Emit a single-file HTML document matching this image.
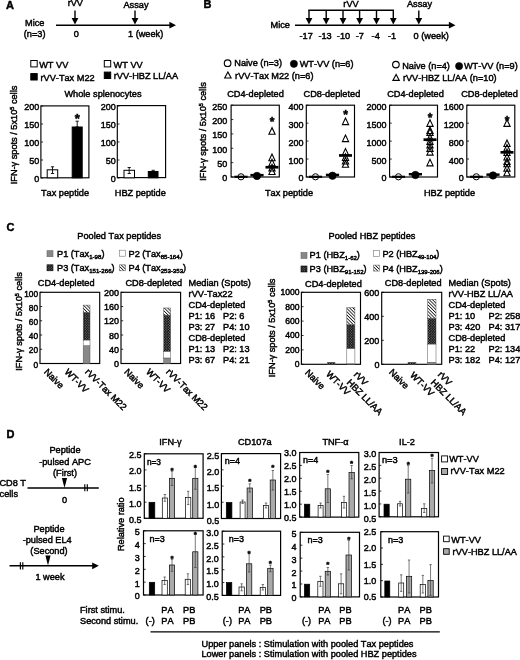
<!DOCTYPE html>
<html><head><meta charset="utf-8"><title>Figure</title>
<style>
html,body{margin:0;padding:0;background:#fff;}
svg{display:block}
svg{font-family:"Liberation Sans",sans-serif;font-size:9.2px;font-kerning:none;}
svg text{fill:#000;stroke:#000;stroke-width:0.45px;}
</style></head><body>
<svg width="520" height="660" viewBox="0 0 520 660">
<rect width="520" height="660" fill="#fff"/>
<text x="6" y="8.6" font-size="11" font-weight="bold">A</text>
<text x="75.3" y="6.4" text-anchor="middle">rVV</text>
<text x="136" y="8" text-anchor="middle">Assay</text>
<line x1="75" y1="10.5" x2="75" y2="18.9" stroke="#000" stroke-width="1.4"/>
<polygon points="71.6,17.9 78.4,17.9 75,24.5" fill="#000"/>
<line x1="135" y1="10.5" x2="135" y2="18.9" stroke="#000" stroke-width="1.4"/>
<polygon points="131.6,17.9 138.4,17.9 135,24.5" fill="#000"/>
<line x1="56" y1="25.2" x2="170.4" y2="25.2" stroke="#000" stroke-width="1.4"/>
<polygon points="169.4,21.8 169.4,28.599999999999998 176,25.2" fill="#000"/>
<text x="25" y="26">Mice</text>
<text x="23.8" y="37.3">(n=3)</text>
<text x="76.3" y="37.2" text-anchor="middle">0</text>
<text x="128" y="37.2">1 (week)</text>
<rect x="30.80" y="60.50" width="6.40" height="6.40" fill="#fff" stroke="#000" stroke-width="1"/>
<text x="39.2" y="68.1">WT VV</text>
<rect x="30.80" y="73.60" width="6.40" height="6.40" fill="#000" stroke="#000" stroke-width="1"/>
<text x="40.5" y="81">rVV-Tax M22</text>
<rect x="104.30" y="60.50" width="6.40" height="6.40" fill="#fff" stroke="#000" stroke-width="1"/>
<text x="113.6" y="68.3">WT VV</text>
<rect x="104.30" y="72.10" width="6.40" height="6.40" fill="#000" stroke="#000" stroke-width="1"/>
<text x="113.8" y="79.2">rVV-HBZ LL/AA</text>
<text x="103" y="97" text-anchor="middle">Whole splenocytes</text>
<text transform="translate(17.2,135) rotate(-90)" text-anchor="middle">IFN-γ spots / 5x10<tspan font-size="5.5" dy="-3">5</tspan><tspan dy="3"> cells</tspan></text>
<rect x="40.90" y="105.90" width="48.00" height="71.90" fill="none" stroke="#000" stroke-width="1.15"/>
<line x1="40.9" y1="178.0" x2="43.1" y2="178.0" stroke="#000" stroke-width="0.8"/>
<text x="39.3" y="181.55" text-anchor="end" font-size="9.0">0</text>
<line x1="40.9" y1="160.0" x2="43.1" y2="160.0" stroke="#000" stroke-width="0.8"/>
<text x="39.3" y="163.55" text-anchor="end" font-size="9.0">50</text>
<line x1="40.9" y1="142.0" x2="43.1" y2="142.0" stroke="#000" stroke-width="0.8"/>
<text x="39.3" y="145.55" text-anchor="end" font-size="9.0">100</text>
<line x1="40.9" y1="124.0" x2="43.1" y2="124.0" stroke="#000" stroke-width="0.8"/>
<text x="39.3" y="127.55" text-anchor="end" font-size="9.0">150</text>
<line x1="40.9" y1="106.0" x2="43.1" y2="106.0" stroke="#000" stroke-width="0.8"/>
<text x="39.3" y="109.55" text-anchor="end" font-size="9.0">200</text>
<rect x="47.20" y="169.80" width="10.50" height="8.00" fill="#fff" stroke="#000" stroke-width="1"/>
<path d="M52.5 166.8V173.5M50.9 166.8H54.1M50.9 173.5H54.1" stroke="#000" stroke-width="0.9" fill="none"/>
<rect x="72.20" y="127.00" width="10.00" height="50.80" fill="#000" stroke="#000" stroke-width="1"/>
<path d="M77.2 121.2V127M75.60000000000001 121.2H78.8M75.60000000000001 127H78.8" stroke="#000" stroke-width="0.9" fill="none"/>
<text x="77.3" y="122.53" text-anchor="middle" font-size="13" font-weight="bold">*</text>
<text x="65" y="196" text-anchor="middle">Tax peptide</text>
<rect x="117.30" y="105.60" width="48.30" height="72.00" fill="none" stroke="#000" stroke-width="1.15"/>
<line x1="117.3" y1="178.0" x2="119.5" y2="178.0" stroke="#000" stroke-width="0.8"/>
<text x="115.7" y="181.55" text-anchor="end" font-size="9.0">0</text>
<line x1="117.3" y1="160.0" x2="119.5" y2="160.0" stroke="#000" stroke-width="0.8"/>
<text x="115.7" y="163.55" text-anchor="end" font-size="9.0">50</text>
<line x1="117.3" y1="142.0" x2="119.5" y2="142.0" stroke="#000" stroke-width="0.8"/>
<text x="115.7" y="145.55" text-anchor="end" font-size="9.0">100</text>
<line x1="117.3" y1="124.0" x2="119.5" y2="124.0" stroke="#000" stroke-width="0.8"/>
<text x="115.7" y="127.55" text-anchor="end" font-size="9.0">150</text>
<line x1="117.3" y1="106.0" x2="119.5" y2="106.0" stroke="#000" stroke-width="0.8"/>
<text x="115.7" y="109.55" text-anchor="end" font-size="9.0">200</text>
<rect x="124.00" y="170.30" width="10.50" height="7.50" fill="#fff" stroke="#000" stroke-width="1"/>
<path d="M129.2 167.5V173.5M127.6 167.5H130.79999999999998M127.6 173.5H130.79999999999998" stroke="#000" stroke-width="0.9" fill="none"/>
<rect x="148.30" y="171.50" width="9.70" height="6.30" fill="#000" stroke="#000" stroke-width="1"/>
<path d="M153.2 170.3V171.5M151.6 170.3H154.79999999999998M151.6 171.5H154.79999999999998" stroke="#000" stroke-width="0.9" fill="none"/>
<text x="140.3" y="196" text-anchor="middle">HBZ peptide</text>
<text x="203.5" y="8.3" font-size="11" font-weight="bold">B</text>
<text x="351" y="7.2" text-anchor="middle">rVV</text>
<text x="419.5" y="7.2" text-anchor="middle">Assay</text>
<line x1="308.3" y1="10.2" x2="394.0" y2="10.2" stroke="#000" stroke-width="1.4"/>
<line x1="309" y1="10.2" x2="309" y2="18.9" stroke="#000" stroke-width="1.4"/>
<polygon points="305.6,17.9 312.4,17.9 309,24.5" fill="#000"/>
<line x1="326.2" y1="10.2" x2="326.2" y2="18.9" stroke="#000" stroke-width="1.4"/>
<polygon points="322.8,17.9 329.59999999999997,17.9 326.2,24.5" fill="#000"/>
<line x1="343" y1="10.2" x2="343" y2="18.9" stroke="#000" stroke-width="1.4"/>
<polygon points="339.6,17.9 346.4,17.9 343,24.5" fill="#000"/>
<line x1="359.6" y1="10.2" x2="359.6" y2="18.9" stroke="#000" stroke-width="1.4"/>
<polygon points="356.20000000000005,17.9 363.0,17.9 359.6,24.5" fill="#000"/>
<line x1="376.5" y1="10.2" x2="376.5" y2="18.9" stroke="#000" stroke-width="1.4"/>
<polygon points="373.1,17.9 379.9,17.9 376.5,24.5" fill="#000"/>
<line x1="393.3" y1="10.2" x2="393.3" y2="18.9" stroke="#000" stroke-width="1.4"/>
<polygon points="389.90000000000003,17.9 396.7,17.9 393.3,24.5" fill="#000"/>
<line x1="418.8" y1="10.5" x2="418.8" y2="18.9" stroke="#000" stroke-width="1.4"/>
<polygon points="415.40000000000003,17.9 422.2,17.9 418.8,24.5" fill="#000"/>
<line x1="295" y1="25.2" x2="449.9" y2="25.2" stroke="#000" stroke-width="1.4"/>
<polygon points="448.9,21.8 448.9,28.599999999999998 455.5,25.2" fill="#000"/>
<text x="270.5" y="28.4">Mice</text>
<text x="306.2" y="39.3" text-anchor="middle">-17</text>
<text x="325.1" y="39.3" text-anchor="middle">-13</text>
<text x="343.5" y="39.3" text-anchor="middle">-10</text>
<text x="359.8" y="39.3" text-anchor="middle">-7</text>
<text x="375.7" y="39.3" text-anchor="middle">-4</text>
<text x="392" y="39.3" text-anchor="middle">-1</text>
<text x="413.6" y="39.4">0 (week)</text>
<circle cx="227.6" cy="63.2" r="3.3" fill="#fff" stroke="#000" stroke-width="1.15"/>
<text x="234.3" y="66.1">Naive (n=3)</text>
<circle cx="293.9" cy="63.8" r="3.6" fill="#000" stroke="#000" stroke-width="0.6"/>
<text x="299.7" y="66.6">WT-VV (n=6)</text>
<polygon points="227.9,72.0 224.70000000000002,78.0 231.1,78.0" fill="#fff" stroke="#000" stroke-width="1.1" stroke-linejoin="miter"/>
<text x="235.1" y="78.6">rVV-Tax M22 (n=6)</text>
<circle cx="395.9" cy="64.6" r="3.3" fill="#fff" stroke="#000" stroke-width="1.15"/>
<text x="402.2" y="68.5">Naive (n=4)</text>
<circle cx="459.1" cy="66.1" r="3.6" fill="#000" stroke="#000" stroke-width="0.6"/>
<text x="463.9" y="69.2">WT-VV (n=9)</text>
<polygon points="396.1,74.4 392.90000000000003,80.4 399.3,80.4" fill="#fff" stroke="#000" stroke-width="1.1" stroke-linejoin="miter"/>
<text x="402.9" y="81.2">rVV-HBZ LL/AA (n=10)</text>
<text transform="translate(206.3,131.5) rotate(-90)" text-anchor="middle">IFN-γ spots / 5x10<tspan font-size="5.5" dy="-3">5</tspan><tspan dy="3"> cells</tspan></text>
<rect x="231.10" y="105.20" width="48.20" height="71.80" fill="none" stroke="#000" stroke-width="1.15"/>
<line x1="231.1" y1="177.0" x2="233.29999999999998" y2="177.0" stroke="#000" stroke-width="0.8"/>
<text x="227.3" y="181.45" text-anchor="end" font-size="9.0">0</text>
<line x1="231.1" y1="162.64" x2="233.29999999999998" y2="162.64" stroke="#000" stroke-width="0.8"/>
<text x="227.3" y="167.09" text-anchor="end" font-size="9.0">50</text>
<line x1="231.1" y1="148.28" x2="233.29999999999998" y2="148.28" stroke="#000" stroke-width="0.8"/>
<text x="227.3" y="152.73" text-anchor="end" font-size="9.0">100</text>
<line x1="231.1" y1="133.92" x2="233.29999999999998" y2="133.92" stroke="#000" stroke-width="0.8"/>
<text x="227.3" y="138.37" text-anchor="end" font-size="9.0">150</text>
<line x1="231.1" y1="119.56" x2="233.29999999999998" y2="119.56" stroke="#000" stroke-width="0.8"/>
<text x="227.3" y="124.01" text-anchor="end" font-size="9.0">200</text>
<line x1="231.1" y1="105.2" x2="233.29999999999998" y2="105.2" stroke="#000" stroke-width="0.8"/>
<text x="227.3" y="109.65" text-anchor="end" font-size="9.0">250</text>
<text x="255.5" y="97.1" text-anchor="middle">CD4-depleted</text>
<circle cx="241" cy="176.8" r="3.1" fill="none" stroke="#000" stroke-width="1.0"/>
<line x1="234.4" y1="176.8" x2="247.6" y2="176.8" stroke="#000" stroke-width="2.2"/>
<circle cx="257" cy="175.94" r="3.7" fill="#000" stroke="#000" stroke-width="0.6"/>
<line x1="250.4" y1="175.14" x2="263.6" y2="175.14" stroke="#000" stroke-width="2.5"/>
<polygon points="272,127.65 268.872,134.28 275.128,134.28" fill="none" stroke="#000" stroke-width="1.1"/>
<polygon points="272,154.07 268.872,160.7 275.128,160.7" fill="none" stroke="#000" stroke-width="1.1"/>
<polygon points="272,159.23999999999998 268.872,165.86999999999998 275.128,165.86999999999998" fill="none" stroke="#000" stroke-width="1.1"/>
<polygon points="272,164.41 268.872,171.04 275.128,171.04" fill="none" stroke="#000" stroke-width="1.1"/>
<polygon points="272,167.85999999999999 268.872,174.48999999999998 275.128,174.48999999999998" fill="none" stroke="#000" stroke-width="1.1"/>
<line x1="265.5" y1="167.24" x2="278.5" y2="167.24" stroke="#000" stroke-width="2.7"/>
<text x="272" y="125.8" text-anchor="middle" font-size="12" font-weight="bold">*</text>
<rect x="306.30" y="105.20" width="48.20" height="71.80" fill="none" stroke="#000" stroke-width="1.15"/>
<line x1="306.3" y1="177.0" x2="308.5" y2="177.0" stroke="#000" stroke-width="0.8"/>
<text x="303.5" y="181.45" text-anchor="end" font-size="9.0">0</text>
<line x1="306.3" y1="159.05" x2="308.5" y2="159.05" stroke="#000" stroke-width="0.8"/>
<text x="303.5" y="163.5" text-anchor="end" font-size="9.0">100</text>
<line x1="306.3" y1="141.1" x2="308.5" y2="141.1" stroke="#000" stroke-width="0.8"/>
<text x="303.5" y="145.55" text-anchor="end" font-size="9.0">200</text>
<line x1="306.3" y1="123.15" x2="308.5" y2="123.15" stroke="#000" stroke-width="0.8"/>
<text x="303.5" y="127.6" text-anchor="end" font-size="9.0">300</text>
<line x1="306.3" y1="105.2" x2="308.5" y2="105.2" stroke="#000" stroke-width="0.8"/>
<text x="303.5" y="109.65" text-anchor="end" font-size="9.0">400</text>
<text x="331.9" y="97.1" text-anchor="middle">CD8-depleted</text>
<circle cx="315.5" cy="176.8" r="3.1" fill="none" stroke="#000" stroke-width="1.0"/>
<line x1="308.9" y1="176.8" x2="322.1" y2="176.8" stroke="#000" stroke-width="2.2"/>
<circle cx="332.5" cy="175.72" r="3.7" fill="#000" stroke="#000" stroke-width="0.6"/>
<line x1="325.9" y1="174.92" x2="339.1" y2="174.92" stroke="#000" stroke-width="2.5"/>
<polygon points="345.5,117.96 342.372,124.59 348.628,124.59" fill="none" stroke="#000" stroke-width="1.1"/>
<polygon points="345.5,135.01 342.372,141.64 348.628,141.64" fill="none" stroke="#000" stroke-width="1.1"/>
<polygon points="345.5,148.47 342.372,155.1 348.628,155.1" fill="none" stroke="#000" stroke-width="1.1"/>
<polygon points="345.5,153.85 342.372,160.48 348.628,160.48" fill="none" stroke="#000" stroke-width="1.1"/>
<polygon points="345.5,157.44 342.372,164.07 348.628,164.07" fill="none" stroke="#000" stroke-width="1.1"/>
<polygon points="345.5,160.68 342.372,167.31 348.628,167.31" fill="none" stroke="#000" stroke-width="1.1"/>
<line x1="339.0" y1="155.46" x2="352.0" y2="155.46" stroke="#000" stroke-width="2.7"/>
<text x="345.5" y="119.3" text-anchor="middle" font-size="12" font-weight="bold">*</text>
<rect x="389.60" y="105.20" width="47.90" height="71.80" fill="none" stroke="#000" stroke-width="1.15"/>
<line x1="389.6" y1="177.0" x2="391.8" y2="177.0" stroke="#000" stroke-width="0.8"/>
<text x="386.5" y="181.45" text-anchor="end" font-size="9.0">0</text>
<line x1="389.6" y1="159.05" x2="391.8" y2="159.05" stroke="#000" stroke-width="0.8"/>
<text x="386.5" y="163.5" text-anchor="end" font-size="9.0">500</text>
<line x1="389.6" y1="141.1" x2="391.8" y2="141.1" stroke="#000" stroke-width="0.8"/>
<text x="386.5" y="145.55" text-anchor="end" font-size="9.0">1000</text>
<line x1="389.6" y1="123.15" x2="391.8" y2="123.15" stroke="#000" stroke-width="0.8"/>
<text x="386.5" y="127.6" text-anchor="end" font-size="9.0">1500</text>
<line x1="389.6" y1="105.2" x2="391.8" y2="105.2" stroke="#000" stroke-width="0.8"/>
<text x="386.5" y="109.65" text-anchor="end" font-size="9.0">2000</text>
<text x="415.5" y="97.1" text-anchor="middle">CD4-depleted</text>
<circle cx="398.5" cy="176.8" r="3.1" fill="none" stroke="#000" stroke-width="1.0"/>
<line x1="391.9" y1="176.8" x2="405.1" y2="176.8" stroke="#000" stroke-width="2.2"/>
<circle cx="415.4" cy="175.01" r="3.7" fill="#000" stroke="#000" stroke-width="0.6"/>
<line x1="408.79999999999995" y1="174.21" x2="422.0" y2="174.21" stroke="#000" stroke-width="2.5"/>
<polygon points="430,119.75 426.872,126.38000000000001 433.128,126.38000000000001" fill="none" stroke="#000" stroke-width="1.1"/>
<polygon points="430,126.93 426.872,133.56 433.128,133.56" fill="none" stroke="#000" stroke-width="1.1"/>
<polygon points="430,128.72 426.872,135.35 433.128,135.35" fill="none" stroke="#000" stroke-width="1.1"/>
<polygon points="430,134.10999999999999 426.872,140.73999999999998 433.128,140.73999999999998" fill="none" stroke="#000" stroke-width="1.1"/>
<polygon points="430,137.7 426.872,144.32999999999998 433.128,144.32999999999998" fill="none" stroke="#000" stroke-width="1.1"/>
<polygon points="430,141.29 426.872,147.92 433.128,147.92" fill="none" stroke="#000" stroke-width="1.1"/>
<polygon points="430,144.88 426.872,151.51 433.128,151.51" fill="none" stroke="#000" stroke-width="1.1"/>
<polygon points="430,148.47 426.872,155.1 433.128,155.1" fill="none" stroke="#000" stroke-width="1.1"/>
<polygon points="430,159.23999999999998 426.872,165.86999999999998 433.128,165.86999999999998" fill="none" stroke="#000" stroke-width="1.1"/>
<line x1="423.5" y1="139.66" x2="436.5" y2="139.66" stroke="#000" stroke-width="2.7"/>
<text x="430" y="121.8" text-anchor="middle" font-size="12" font-weight="bold">*</text>
<rect x="466.80" y="105.20" width="48.00" height="71.80" fill="none" stroke="#000" stroke-width="1.15"/>
<line x1="466.8" y1="177.0" x2="469.0" y2="177.0" stroke="#000" stroke-width="0.8"/>
<text x="463.7" y="181.45" text-anchor="end" font-size="9.0">0</text>
<line x1="466.8" y1="159.05" x2="469.0" y2="159.05" stroke="#000" stroke-width="0.8"/>
<text x="463.7" y="163.5" text-anchor="end" font-size="9.0">400</text>
<line x1="466.8" y1="141.1" x2="469.0" y2="141.1" stroke="#000" stroke-width="0.8"/>
<text x="463.7" y="145.55" text-anchor="end" font-size="9.0">800</text>
<line x1="466.8" y1="123.15" x2="469.0" y2="123.15" stroke="#000" stroke-width="0.8"/>
<text x="463.7" y="127.6" text-anchor="end" font-size="9.0">1200</text>
<line x1="466.8" y1="105.2" x2="469.0" y2="105.2" stroke="#000" stroke-width="0.8"/>
<text x="463.7" y="109.65" text-anchor="end" font-size="9.0">1600</text>
<text x="489.5" y="97.1" text-anchor="middle">CD8-depleted</text>
<circle cx="476.3" cy="176.8" r="3.1" fill="none" stroke="#000" stroke-width="1.0"/>
<line x1="469.7" y1="176.8" x2="482.90000000000003" y2="176.8" stroke="#000" stroke-width="2.2"/>
<circle cx="493" cy="175.45" r="3.7" fill="#000" stroke="#000" stroke-width="0.6"/>
<line x1="486.4" y1="174.65" x2="499.6" y2="174.65" stroke="#000" stroke-width="2.5"/>
<polygon points="507,119.75 503.872,126.38000000000001 510.128,126.38000000000001" fill="none" stroke="#000" stroke-width="1.1"/>
<polygon points="507,139.94 503.872,146.57 510.128,146.57" fill="none" stroke="#000" stroke-width="1.1"/>
<polygon points="507,144.43 503.872,151.06 510.128,151.06" fill="none" stroke="#000" stroke-width="1.1"/>
<polygon points="507,148.92 503.872,155.54999999999998 510.128,155.54999999999998" fill="none" stroke="#000" stroke-width="1.1"/>
<polygon points="507,153.41 503.872,160.04 510.128,160.04" fill="none" stroke="#000" stroke-width="1.1"/>
<polygon points="507,157.89 503.872,164.51999999999998 510.128,164.51999999999998" fill="none" stroke="#000" stroke-width="1.1"/>
<polygon points="507,160.14 503.872,166.76999999999998 510.128,166.76999999999998" fill="none" stroke="#000" stroke-width="1.1"/>
<polygon points="507,164.63 503.872,171.26 510.128,171.26" fill="none" stroke="#000" stroke-width="1.1"/>
<polygon points="507,169.10999999999999 503.872,175.73999999999998 510.128,175.73999999999998" fill="none" stroke="#000" stroke-width="1.1"/>
<line x1="500.5" y1="152.32" x2="513.5" y2="152.32" stroke="#000" stroke-width="2.7"/>
<text x="507" y="124.6" text-anchor="middle" font-size="12" font-weight="bold">*</text>
<text x="289" y="196" text-anchor="middle">Tax peptide</text>
<text x="449.5" y="196" text-anchor="middle">HBZ peptide</text>
<text x="6.5" y="231" font-size="11" font-weight="bold">C</text>
<text x="119.2" y="239" text-anchor="middle">Pooled Tax peptides</text>
<text x="372" y="239" text-anchor="middle">Pooled HBZ peptides</text>
<defs>
<pattern id="chk" width="2.6" height="2.6" patternUnits="userSpaceOnUse"><rect width="2.6" height="2.6" fill="#000"/><circle cx="0.65" cy="0.65" r="0.55" fill="#aaa"/><circle cx="1.95" cy="1.95" r="0.55" fill="#aaa"/></pattern>
<pattern id="hat" width="2.3" height="2.3" patternUnits="userSpaceOnUse" patternTransform="rotate(45)"><rect width="2.3" height="2.3" fill="#fff"/><rect width="2.3" height="0.8" fill="#111"/></pattern>
</defs>
<rect x="47.00" y="250.70" width="6.00" height="6.00" fill="#888" stroke="#666" stroke-width="0.6"/>
<text x="57" y="256.6">P1 (Tax<tspan font-size="6.1" dy="2">1-98</tspan><tspan dy="-2">)</tspan></text>
<rect x="47.00" y="264.80" width="6.00" height="6.00" fill="url(#chk)" stroke="#000" stroke-width="0.6"/>
<text x="57" y="270.7">P3 (Tax<tspan font-size="6.1" dy="2">151-266</tspan><tspan dy="-2">)</tspan></text>
<rect x="119.50" y="250.20" width="6.00" height="6.00" fill="#fff" stroke="#777" stroke-width="0.6"/>
<text x="128.5" y="256.6">P2 (Tax<tspan font-size="6.1" dy="2">85-164</tspan><tspan dy="-2">)</tspan></text>
<rect x="119.50" y="264.80" width="6.00" height="6.00" fill="url(#hat)" stroke="#777" stroke-width="0.6"/>
<text x="128.5" y="270.7">P4 (Tax<tspan font-size="6.1" dy="2">253-353</tspan><tspan dy="-2">)</tspan></text>
<rect x="301.00" y="252.50" width="6.00" height="6.00" fill="#888" stroke="#666" stroke-width="0.6"/>
<text x="309.6" y="258.40000000000003">P1 (HBZ<tspan font-size="6.0" dy="2">1-62</tspan><tspan dy="-2">)</tspan></text>
<rect x="301.00" y="266.00" width="6.00" height="6.00" fill="url(#chk)" stroke="#000" stroke-width="0.6"/>
<text x="309.6" y="271.9">P3 (HBZ<tspan font-size="6.0" dy="2">91-152</tspan><tspan dy="-2">)</tspan></text>
<rect x="373.50" y="250.50" width="6.00" height="6.00" fill="#fff" stroke="#777" stroke-width="0.6"/>
<text x="382.4" y="257.4">P2 (HBZ<tspan font-size="6.0" dy="2">49-104</tspan><tspan dy="-2">)</tspan></text>
<rect x="373.50" y="265.10" width="6.00" height="6.00" fill="url(#hat)" stroke="#777" stroke-width="0.6"/>
<text x="382.4" y="271.9">P4 (HBZ<tspan font-size="6.0" dy="2">139-206</tspan><tspan dy="-2">)</tspan></text>
<text transform="translate(21.9,321.5) rotate(-90)" text-anchor="middle">IFN-γ spots / 5x10<tspan font-size="5.5" dy="-3">5</tspan><tspan dy="3"> cells</tspan></text>
<rect x="40.00" y="292.30" width="59.70" height="71.20" fill="none" stroke="#000" stroke-width="1.15"/>
<line x1="40" y1="363.5" x2="42.2" y2="363.5" stroke="#000" stroke-width="0.8"/>
<text x="38.0" y="367.7" text-anchor="end" font-size="8.3">0</text>
<line x1="40" y1="349.26" x2="42.2" y2="349.26" stroke="#000" stroke-width="0.8"/>
<text x="38.0" y="353.46" text-anchor="end" font-size="8.3">20</text>
<line x1="40" y1="335.02" x2="42.2" y2="335.02" stroke="#000" stroke-width="0.8"/>
<text x="38.0" y="339.22" text-anchor="end" font-size="8.3">40</text>
<line x1="40" y1="320.78" x2="42.2" y2="320.78" stroke="#000" stroke-width="0.8"/>
<text x="38.0" y="324.98" text-anchor="end" font-size="8.3">60</text>
<line x1="40" y1="306.54" x2="42.2" y2="306.54" stroke="#000" stroke-width="0.8"/>
<text x="38.0" y="310.74" text-anchor="end" font-size="8.3">80</text>
<line x1="40" y1="292.3" x2="42.2" y2="292.3" stroke="#000" stroke-width="0.8"/>
<text x="38.0" y="296.5" text-anchor="end" font-size="8.3">100</text>
<text x="66.2" y="285.8" text-anchor="middle">CD4-depleted</text>
<rect x="83.20" y="345.70" width="6.80" height="17.80" fill="#888" stroke="#555" stroke-width="0.5"/>
<rect x="83.20" y="340.00" width="6.80" height="5.70" fill="#fff" stroke="#555" stroke-width="0.5"/>
<rect x="83.20" y="312.24" width="6.80" height="27.77" fill="url(#chk)" stroke="#555" stroke-width="0.5"/>
<rect x="83.20" y="305.12" width="6.80" height="7.12" fill="url(#hat)" stroke="#555" stroke-width="0.5"/>
<text transform="translate(43.5,372.5) rotate(45)">Naive</text>
<text transform="translate(64.0,372.5) rotate(45)">WT-VV</text>
<text transform="translate(84.5,372.5) rotate(45)">rVV-Tax M22</text>
<rect x="121.00" y="292.30" width="59.60" height="71.20" fill="none" stroke="#000" stroke-width="1.15"/>
<line x1="121" y1="363.5" x2="123.2" y2="363.5" stroke="#000" stroke-width="0.8"/>
<text x="119.0" y="367.05" text-anchor="end" font-size="9.0">0</text>
<line x1="121" y1="349.26" x2="123.2" y2="349.26" stroke="#000" stroke-width="0.8"/>
<text x="119.0" y="352.81" text-anchor="end" font-size="9.0">40</text>
<line x1="121" y1="335.02" x2="123.2" y2="335.02" stroke="#000" stroke-width="0.8"/>
<text x="119.0" y="338.57" text-anchor="end" font-size="9.0">80</text>
<line x1="121" y1="320.78" x2="123.2" y2="320.78" stroke="#000" stroke-width="0.8"/>
<text x="119.0" y="324.33" text-anchor="end" font-size="9.0">120</text>
<line x1="121" y1="306.54" x2="123.2" y2="306.54" stroke="#000" stroke-width="0.8"/>
<text x="119.0" y="310.09" text-anchor="end" font-size="9.0">160</text>
<line x1="121" y1="292.3" x2="123.2" y2="292.3" stroke="#000" stroke-width="0.8"/>
<text x="119.0" y="295.85" text-anchor="end" font-size="9.0">200</text>
<text x="153.8" y="285.8" text-anchor="middle">CD8-depleted</text>
<rect x="163.70" y="357.98" width="6.90" height="5.52" fill="#888" stroke="#555" stroke-width="0.5"/>
<rect x="163.70" y="351.22" width="6.90" height="6.76" fill="#fff" stroke="#555" stroke-width="0.5"/>
<rect x="163.70" y="315.08" width="6.90" height="36.13" fill="url(#chk)" stroke="#555" stroke-width="0.5"/>
<rect x="163.70" y="307.96" width="6.90" height="7.12" fill="url(#hat)" stroke="#555" stroke-width="0.5"/>
<text transform="translate(123.8,372.5) rotate(45)">Naive</text>
<text transform="translate(145.5,372.5) rotate(45)">WT-VV</text>
<text transform="translate(165.5,372.5) rotate(45)">rVV-Tax M22</text>
<text x="188.6" y="285.5">Median (Spots)</text>
<text x="188.6" y="296.6">rVV-Tax22</text>
<text x="188.6" y="307.6">CD4-depleted</text>
<text x="188.6" y="318.7">P1: 16</text>
<text x="223" y="318.7">P2: 6</text>
<text x="188.6" y="329.8">P3: 27</text>
<text x="223" y="329.8">P4: 10</text>
<text x="188.6" y="340.8">CD8-depleted</text>
<text x="188.6" y="351.9">P1: 13</text>
<text x="223" y="351.9">P2: 13</text>
<text x="188.6" y="363.0">P3: 67</text>
<text x="223" y="363.0">P4: 21</text>
<text transform="translate(275.3,328) rotate(-90)" text-anchor="middle">IFN-γ spots / 5x10<tspan font-size="5.5" dy="-3">5</tspan><tspan dy="3"> cells</tspan></text>
<rect x="301.40" y="292.30" width="59.10" height="72.00" fill="none" stroke="#000" stroke-width="1.15"/>
<line x1="301.4" y1="364.3" x2="303.59999999999997" y2="364.3" stroke="#000" stroke-width="0.8"/>
<text x="299.6" y="367.21" text-anchor="end" font-size="8.6">0</text>
<line x1="301.4" y1="349.9" x2="303.59999999999997" y2="349.9" stroke="#000" stroke-width="0.8"/>
<text x="299.6" y="352.81" text-anchor="end" font-size="8.6">200</text>
<line x1="301.4" y1="335.5" x2="303.59999999999997" y2="335.5" stroke="#000" stroke-width="0.8"/>
<text x="299.6" y="338.41" text-anchor="end" font-size="8.6">400</text>
<line x1="301.4" y1="321.1" x2="303.59999999999997" y2="321.1" stroke="#000" stroke-width="0.8"/>
<text x="299.6" y="324.01" text-anchor="end" font-size="8.6">600</text>
<line x1="301.4" y1="306.7" x2="303.59999999999997" y2="306.7" stroke="#000" stroke-width="0.8"/>
<text x="299.6" y="309.61" text-anchor="end" font-size="8.6">800</text>
<line x1="301.4" y1="292.3" x2="303.59999999999997" y2="292.3" stroke="#000" stroke-width="0.8"/>
<text x="299.6" y="295.21" text-anchor="end" font-size="8.6">1000</text>
<text x="333.4" y="286.6" text-anchor="middle">CD4-depleted</text>
<rect x="327.50" y="362.28" width="7.50" height="2.02" fill="url(#chk)" stroke="#555" stroke-width="0.5"/>
<rect x="346.80" y="363.72" width="8.10" height="0.58" fill="#888" stroke="#555" stroke-width="0.5"/>
<rect x="346.80" y="348.32" width="8.10" height="15.41" fill="#fff" stroke="#555" stroke-width="0.5"/>
<rect x="346.80" y="324.56" width="8.10" height="23.76" fill="url(#chk)" stroke="#555" stroke-width="0.5"/>
<rect x="346.80" y="307.64" width="8.10" height="16.92" fill="url(#hat)" stroke="#555" stroke-width="0.5"/>
<text transform="translate(304.5,373.3) rotate(45)">Naive</text>
<text transform="translate(325.5,374.8) rotate(45)">WT-VV</text>
<text transform="translate(353.3,375.2) rotate(45)"><tspan x="0" y="0">rVV</tspan><tspan x="0.6" y="10.5">HBZ LL/AA</tspan></text>
<rect x="381.70" y="292.30" width="60.00" height="72.00" fill="none" stroke="#000" stroke-width="1.15"/>
<line x1="381.7" y1="364.3" x2="383.9" y2="364.3" stroke="#000" stroke-width="0.8"/>
<text x="379.4" y="367.95" text-anchor="end" font-size="9.0">0</text>
<line x1="381.7" y1="340.3" x2="383.9" y2="340.3" stroke="#000" stroke-width="0.8"/>
<text x="379.4" y="343.95" text-anchor="end" font-size="9.0">200</text>
<line x1="381.7" y1="316.3" x2="383.9" y2="316.3" stroke="#000" stroke-width="0.8"/>
<text x="379.4" y="319.95" text-anchor="end" font-size="9.0">400</text>
<line x1="381.7" y1="292.3" x2="383.9" y2="292.3" stroke="#000" stroke-width="0.8"/>
<text x="379.4" y="295.95" text-anchor="end" font-size="9.0">600</text>
<text x="413.2" y="286.1" text-anchor="middle">CD8-depleted</text>
<rect x="408.00" y="362.26" width="8.00" height="2.04" fill="url(#chk)" stroke="#555" stroke-width="0.5"/>
<rect x="427.70" y="362.26" width="8.30" height="2.04" fill="#888" stroke="#555" stroke-width="0.5"/>
<rect x="427.70" y="344.02" width="8.30" height="18.24" fill="#fff" stroke="#555" stroke-width="0.5"/>
<rect x="427.70" y="318.22" width="8.30" height="25.80" fill="url(#chk)" stroke="#555" stroke-width="0.5"/>
<rect x="427.70" y="299.26" width="8.30" height="18.96" fill="url(#hat)" stroke="#555" stroke-width="0.5"/>
<text transform="translate(388.5,372.8) rotate(45)">Naive</text>
<text transform="translate(409.5,375.8) rotate(45)">WT-VV</text>
<text transform="translate(437.3,375.2) rotate(45)"><tspan x="0" y="0">rVV</tspan><tspan x="0.6" y="10.5">HBZ LL/AA</tspan></text>
<text x="448.6" y="285.5">Median (Spots)</text>
<text x="448.6" y="296.6">rVV-HBZ LL/AA</text>
<text x="448.6" y="307.6">CD4-depleted</text>
<text x="448.6" y="318.7">P1: 10</text>
<text x="488.6" y="318.7">P2: 258</text>
<text x="448.6" y="329.8">P3: 420</text>
<text x="488.6" y="329.8">P4: 317</text>
<text x="448.6" y="340.8">CD8-depleted</text>
<text x="448.6" y="351.9">P1: 22</text>
<text x="488.6" y="351.9">P2: 134</text>
<text x="448.6" y="363.0">P3: 182</text>
<text x="488.6" y="363.0">P4: 127</text>
<text x="6.5" y="438.4" font-size="11" font-weight="bold">D</text>
<text x="65" y="453" text-anchor="middle">Peptide</text>
<text x="65" y="464.5" text-anchor="middle">-pulsed APC</text>
<text x="65" y="475.5" text-anchor="middle">(First)</text>
<polygon points="61.9,478 67.1,478 64.5,488" fill="#000"/>
<line x1="27.5" y1="488" x2="98.8" y2="488" stroke="#000" stroke-width="1.35"/>
<line x1="84.8" y1="484.2" x2="84.8" y2="491.2" stroke="#000" stroke-width="1.15"/>
<line x1="87.3" y1="484.2" x2="87.3" y2="491.2" stroke="#000" stroke-width="1.15"/>
<text x="-0.6" y="485.5">CD8 T</text>
<text x="-0.4" y="496.5">cells</text>
<text x="64.5" y="502.5" text-anchor="middle">0</text>
<text x="49" y="531.8" text-anchor="middle">Peptide</text>
<text x="47.2" y="543" text-anchor="middle">-pulsed EL4</text>
<text x="49" y="554" text-anchor="middle">(Second)</text>
<polygon points="45.4,555.5 50.6,555.5 48,565.5" fill="#000"/>
<line x1="9.5" y1="565.8" x2="93.2" y2="565.8" stroke="#000" stroke-width="1.4"/>
<polygon points="92.2,562.4 92.2,569.1999999999999 98.8,565.8" fill="#000"/>
<line x1="20.4" y1="562.2" x2="20.4" y2="569.4" stroke="#000" stroke-width="1.15"/>
<line x1="22.8" y1="562.2" x2="22.8" y2="569.4" stroke="#000" stroke-width="1.15"/>
<text x="50" y="579.5" text-anchor="middle">1 week</text>
<text transform="translate(124.3,524.3) rotate(-90)" text-anchor="middle">Relative ratio</text>
<rect x="144.30" y="453.80" width="58.80" height="64.50" fill="none" stroke="#000" stroke-width="1.2"/>
<line x1="144.3" y1="518.3" x2="146.5" y2="518.3" stroke="#000" stroke-width="0.8"/>
<text x="141.6" y="522.85" text-anchor="end" font-size="9.0">0.5</text>
<line x1="144.3" y1="502.17" x2="146.5" y2="502.17" stroke="#000" stroke-width="0.8"/>
<text x="141.6" y="506.72" text-anchor="end" font-size="9.0">1.0</text>
<line x1="144.3" y1="486.05" x2="146.5" y2="486.05" stroke="#000" stroke-width="0.8"/>
<text x="141.6" y="490.6" text-anchor="end" font-size="9.0">1.5</text>
<line x1="144.3" y1="469.93" x2="146.5" y2="469.93" stroke="#000" stroke-width="0.8"/>
<text x="141.6" y="474.48" text-anchor="end" font-size="9.0">2.0</text>
<line x1="144.3" y1="453.8" x2="146.5" y2="453.8" stroke="#000" stroke-width="0.8"/>
<text x="141.6" y="458.35" text-anchor="end" font-size="9.0">2.5</text>
<text x="170.5" y="444.5" text-anchor="middle">IFN-γ</text>
<text x="146.9" y="464.8" font-size="8.3">n=3</text>
<rect x="149.00" y="502.30" width="5.80" height="16.00" fill="#000" stroke="#000" stroke-width="0.7"/>
<rect x="162.30" y="498.00" width="5.20" height="20.30" fill="#fff" stroke="#000" stroke-width="0.7"/>
<path d="M164.9 494.5V501.3M163.70000000000002 494.5H166.1M163.70000000000002 501.3H166.1" stroke="#333" stroke-width="0.65" fill="none"/>
<rect x="169.40" y="478.30" width="5.20" height="40.00" fill="#aaa" stroke="#000" stroke-width="0.7"/>
<path d="M172.0 471.3V485.5M170.8 471.3H173.2M170.8 485.5H173.2" stroke="#333" stroke-width="0.65" fill="none"/>
<text x="172.0" y="472.7" text-anchor="middle" font-size="8" font-weight="bold">*</text>
<rect x="185.60" y="497.50" width="5.20" height="20.80" fill="#fff" stroke="#000" stroke-width="0.7"/>
<path d="M188.2 491.3V504.5M187.0 491.3H189.39999999999998M187.0 504.5H189.39999999999998" stroke="#333" stroke-width="0.65" fill="none"/>
<rect x="192.70" y="478.30" width="5.20" height="40.00" fill="#aaa" stroke="#000" stroke-width="0.7"/>
<path d="M195.3 467.5V489.3M194.10000000000002 467.5H196.5M194.10000000000002 489.3H196.5" stroke="#333" stroke-width="0.65" fill="none"/>
<text x="195.29999999999998" y="469.7" text-anchor="middle" font-size="8" font-weight="bold">*</text>
<rect x="221.40" y="453.60" width="59.20" height="64.90" fill="none" stroke="#000" stroke-width="1.2"/>
<line x1="221.4" y1="518.5" x2="223.6" y2="518.5" stroke="#000" stroke-width="0.8"/>
<text x="219.2" y="523.85" text-anchor="end" font-size="9.0">0.5</text>
<line x1="221.4" y1="502.27" x2="223.6" y2="502.27" stroke="#000" stroke-width="0.8"/>
<text x="219.2" y="507.62" text-anchor="end" font-size="9.0">1.0</text>
<line x1="221.4" y1="486.05" x2="223.6" y2="486.05" stroke="#000" stroke-width="0.8"/>
<text x="219.2" y="491.4" text-anchor="end" font-size="9.0">1.5</text>
<line x1="221.4" y1="469.83" x2="223.6" y2="469.83" stroke="#000" stroke-width="0.8"/>
<text x="219.2" y="475.18" text-anchor="end" font-size="9.0">2.0</text>
<line x1="221.4" y1="453.6" x2="223.6" y2="453.6" stroke="#000" stroke-width="0.8"/>
<text x="219.2" y="458.95" text-anchor="end" font-size="9.0">2.5</text>
<text x="254.8" y="444.5" text-anchor="middle">CD107a</text>
<text x="224.8" y="463.8" font-size="9">n=4</text>
<rect x="226.30" y="502.50" width="5.60" height="16.00" fill="#000" stroke="#000" stroke-width="0.7"/>
<rect x="240.10" y="502.00" width="5.00" height="16.50" fill="#fff" stroke="#000" stroke-width="0.7"/>
<path d="M242.6 500V503.5M241.4 500H243.79999999999998M241.4 503.5H243.79999999999998" stroke="#333" stroke-width="0.65" fill="none"/>
<rect x="247.10" y="488.00" width="5.30" height="30.50" fill="#aaa" stroke="#000" stroke-width="0.7"/>
<path d="M249.75 483.8V492M248.55 483.8H250.95M248.55 492H250.95" stroke="#333" stroke-width="0.65" fill="none"/>
<text x="249.75" y="483.7" text-anchor="middle" font-size="8" font-weight="bold">*</text>
<rect x="263.40" y="505.50" width="5.20" height="13.00" fill="#fff" stroke="#000" stroke-width="0.7"/>
<path d="M266.0 503V508M264.8 503H267.2M264.8 508H267.2" stroke="#333" stroke-width="0.65" fill="none"/>
<rect x="270.20" y="480.00" width="5.30" height="38.50" fill="#aaa" stroke="#000" stroke-width="0.7"/>
<path d="M272.85 470.5V490M271.65000000000003 470.5H274.05M271.65000000000003 490H274.05" stroke="#333" stroke-width="0.65" fill="none"/>
<text x="272.84999999999997" y="470.2" text-anchor="middle" font-size="8" font-weight="bold">*</text>
<rect x="299.70" y="452.50" width="59.10" height="64.60" fill="none" stroke="#000" stroke-width="1.2"/>
<line x1="299.7" y1="517.1" x2="301.9" y2="517.1" stroke="#000" stroke-width="0.8"/>
<text x="296.5" y="520.95" text-anchor="end" font-size="9.0">0.5</text>
<line x1="299.7" y1="504.18" x2="301.9" y2="504.18" stroke="#000" stroke-width="0.8"/>
<text x="296.5" y="508.03" text-anchor="end" font-size="9.0">1.0</text>
<line x1="299.7" y1="491.26" x2="301.9" y2="491.26" stroke="#000" stroke-width="0.8"/>
<text x="296.5" y="495.11" text-anchor="end" font-size="9.0">1.5</text>
<line x1="299.7" y1="478.34" x2="301.9" y2="478.34" stroke="#000" stroke-width="0.8"/>
<text x="296.5" y="482.19" text-anchor="end" font-size="9.0">2.0</text>
<line x1="299.7" y1="465.42" x2="301.9" y2="465.42" stroke="#000" stroke-width="0.8"/>
<text x="296.5" y="469.27" text-anchor="end" font-size="9.0">2.5</text>
<line x1="299.7" y1="452.5" x2="301.9" y2="452.5" stroke="#000" stroke-width="0.8"/>
<text x="296.5" y="456.35" text-anchor="end" font-size="9.0">3.0</text>
<text x="335.5" y="444.5" text-anchor="middle">TNF-α</text>
<text x="302.9" y="462.6" font-size="9">n=4</text>
<rect x="304.40" y="504.20" width="5.40" height="12.90" fill="#000" stroke="#000" stroke-width="0.7"/>
<rect x="318.10" y="505.50" width="5.00" height="11.60" fill="#fff" stroke="#000" stroke-width="0.7"/>
<path d="M320.6 503V508M319.40000000000003 503H321.8M319.40000000000003 508H321.8" stroke="#333" stroke-width="0.65" fill="none"/>
<rect x="325.20" y="488.80" width="5.30" height="28.30" fill="#aaa" stroke="#000" stroke-width="0.7"/>
<path d="M327.85 474.5V502.5M326.65000000000003 474.5H329.05M326.65000000000003 502.5H329.05" stroke="#333" stroke-width="0.65" fill="none"/>
<text x="327.84999999999997" y="475.2" text-anchor="middle" font-size="8" font-weight="bold">*</text>
<rect x="341.40" y="502.50" width="5.20" height="14.60" fill="#fff" stroke="#000" stroke-width="0.7"/>
<path d="M344.0 496.3V508M342.8 496.3H345.2M342.8 508H345.2" stroke="#333" stroke-width="0.65" fill="none"/>
<rect x="349.00" y="472.50" width="5.30" height="44.60" fill="#aaa" stroke="#000" stroke-width="0.7"/>
<path d="M351.65 465.5V478.8M350.45 465.5H352.84999999999997M350.45 478.8H352.84999999999997" stroke="#333" stroke-width="0.65" fill="none"/>
<text x="351.65" y="466.0" text-anchor="middle" font-size="8" font-weight="bold">*</text>
<rect x="379.10" y="452.50" width="59.40" height="64.30" fill="none" stroke="#000" stroke-width="1.2"/>
<line x1="379.1" y1="516.8" x2="381.3" y2="516.8" stroke="#000" stroke-width="0.8"/>
<text x="376.3" y="521.55" text-anchor="end" font-size="9.0">0.5</text>
<line x1="379.1" y1="503.94" x2="381.3" y2="503.94" stroke="#000" stroke-width="0.8"/>
<text x="376.3" y="508.69" text-anchor="end" font-size="9.0">1.0</text>
<line x1="379.1" y1="491.08" x2="381.3" y2="491.08" stroke="#000" stroke-width="0.8"/>
<text x="376.3" y="495.83" text-anchor="end" font-size="9.0">1.5</text>
<line x1="379.1" y1="478.22" x2="381.3" y2="478.22" stroke="#000" stroke-width="0.8"/>
<text x="376.3" y="482.97" text-anchor="end" font-size="9.0">2.0</text>
<line x1="379.1" y1="465.36" x2="381.3" y2="465.36" stroke="#000" stroke-width="0.8"/>
<text x="376.3" y="470.11" text-anchor="end" font-size="9.0">2.5</text>
<line x1="379.1" y1="452.5" x2="381.3" y2="452.5" stroke="#000" stroke-width="0.8"/>
<text x="376.3" y="457.25" text-anchor="end" font-size="9.0">3.0</text>
<text x="407" y="444.5" text-anchor="middle">IL-2</text>
<text x="381.9" y="462.8" font-size="9.3">n=3</text>
<rect x="384.00" y="504.20" width="5.20" height="12.60" fill="#000" stroke="#000" stroke-width="0.7"/>
<rect x="397.60" y="503.80" width="5.00" height="13.00" fill="#fff" stroke="#000" stroke-width="0.7"/>
<path d="M400.1 501.4V506M398.90000000000003 501.4H401.3M398.90000000000003 506H401.3" stroke="#333" stroke-width="0.65" fill="none"/>
<rect x="405.60" y="479.20" width="5.20" height="37.60" fill="#aaa" stroke="#000" stroke-width="0.7"/>
<path d="M408.2 465.4V493M407.0 465.4H409.4M407.0 493H409.4" stroke="#333" stroke-width="0.65" fill="none"/>
<text x="408.20000000000005" y="466.5" text-anchor="middle" font-size="8" font-weight="bold">*</text>
<rect x="421.60" y="508.50" width="5.20" height="8.30" fill="#fff" stroke="#000" stroke-width="0.7"/>
<path d="M424.2 503.8V512.5M423.0 503.8H425.4M423.0 512.5H425.4" stroke="#333" stroke-width="0.65" fill="none"/>
<rect x="429.40" y="470.60" width="5.30" height="46.20" fill="#aaa" stroke="#000" stroke-width="0.7"/>
<path d="M432.05 458.3V483M430.85 458.3H433.25M430.85 483H433.25" stroke="#333" stroke-width="0.65" fill="none"/>
<text x="432.04999999999995" y="459.4" text-anchor="middle" font-size="8" font-weight="bold">*</text>
<rect x="441.60" y="455.90" width="6.00" height="6.00" fill="#fff" stroke="#000" stroke-width="0.9"/>
<text x="449.2" y="462.2">WT-VV</text>
<rect x="441.60" y="468.50" width="6.00" height="6.00" fill="#aaa" stroke="#000" stroke-width="0.9"/>
<text x="450.5" y="474.1">rVV-Tax M22</text>
<rect x="143.50" y="530.80" width="59.60" height="64.20" fill="none" stroke="#000" stroke-width="1.2"/>
<line x1="143.5" y1="595.0" x2="145.7" y2="595.0" stroke="#000" stroke-width="0.8"/>
<text x="139.8" y="599.45" text-anchor="end" font-size="9.0">0</text>
<line x1="143.5" y1="582.16" x2="145.7" y2="582.16" stroke="#000" stroke-width="0.8"/>
<text x="139.8" y="586.61" text-anchor="end" font-size="9.0">1</text>
<line x1="143.5" y1="569.32" x2="145.7" y2="569.32" stroke="#000" stroke-width="0.8"/>
<text x="139.8" y="573.77" text-anchor="end" font-size="9.0">2</text>
<line x1="143.5" y1="556.48" x2="145.7" y2="556.48" stroke="#000" stroke-width="0.8"/>
<text x="139.8" y="560.93" text-anchor="end" font-size="9.0">3</text>
<line x1="143.5" y1="543.64" x2="145.7" y2="543.64" stroke="#000" stroke-width="0.8"/>
<text x="139.8" y="548.09" text-anchor="end" font-size="9.0">4</text>
<line x1="143.5" y1="530.8" x2="145.7" y2="530.8" stroke="#000" stroke-width="0.8"/>
<text x="139.8" y="535.25" text-anchor="end" font-size="9.0">5</text>
<text x="149.6" y="541.5" font-size="9">n=3</text>
<rect x="149.30" y="582.30" width="5.40" height="12.70" fill="#000" stroke="#000" stroke-width="0.7"/>
<rect x="162.00" y="580.50" width="5.30" height="14.50" fill="#fff" stroke="#000" stroke-width="0.7"/>
<path d="M164.65 577V584.5M163.45000000000002 577H165.85M163.45000000000002 584.5H165.85" stroke="#333" stroke-width="0.65" fill="none"/>
<rect x="169.40" y="565.00" width="5.20" height="30.00" fill="#aaa" stroke="#000" stroke-width="0.7"/>
<path d="M172.0 559.5V571.3M170.8 559.5H173.2M170.8 571.3H173.2" stroke="#333" stroke-width="0.65" fill="none"/>
<text x="172.0" y="561.2" text-anchor="middle" font-size="8" font-weight="bold">*</text>
<rect x="185.20" y="579.30" width="5.40" height="15.70" fill="#fff" stroke="#000" stroke-width="0.7"/>
<path d="M187.9 573.8V584.5M186.70000000000002 573.8H189.1M186.70000000000002 584.5H189.1" stroke="#333" stroke-width="0.65" fill="none"/>
<rect x="192.70" y="551.80" width="5.20" height="43.20" fill="#aaa" stroke="#000" stroke-width="0.7"/>
<path d="M195.3 533.8V567.5M194.10000000000002 533.8H196.5M194.10000000000002 567.5H196.5" stroke="#333" stroke-width="0.65" fill="none"/>
<text x="195.29999999999998" y="536.7" text-anchor="middle" font-size="8" font-weight="bold">*</text>
<rect x="222.20" y="531.20" width="58.40" height="64.20" fill="none" stroke="#000" stroke-width="1.2"/>
<line x1="222.2" y1="595.4" x2="224.39999999999998" y2="595.4" stroke="#000" stroke-width="0.8"/>
<text x="218.8" y="600.15" text-anchor="end" font-size="9.0">0.5</text>
<line x1="222.2" y1="582.56" x2="224.39999999999998" y2="582.56" stroke="#000" stroke-width="0.8"/>
<text x="218.8" y="587.31" text-anchor="end" font-size="9.0">1.0</text>
<line x1="222.2" y1="569.72" x2="224.39999999999998" y2="569.72" stroke="#000" stroke-width="0.8"/>
<text x="218.8" y="574.47" text-anchor="end" font-size="9.0">1.5</text>
<line x1="222.2" y1="556.88" x2="224.39999999999998" y2="556.88" stroke="#000" stroke-width="0.8"/>
<text x="218.8" y="561.63" text-anchor="end" font-size="9.0">2.0</text>
<line x1="222.2" y1="544.04" x2="224.39999999999998" y2="544.04" stroke="#000" stroke-width="0.8"/>
<text x="218.8" y="548.79" text-anchor="end" font-size="9.0">2.5</text>
<line x1="222.2" y1="531.2" x2="224.39999999999998" y2="531.2" stroke="#000" stroke-width="0.8"/>
<text x="218.8" y="535.95" text-anchor="end" font-size="9.0">3.0</text>
<text x="228.7" y="542.0" font-size="9">n=3</text>
<rect x="226.40" y="582.50" width="5.40" height="12.90" fill="#000" stroke="#000" stroke-width="0.7"/>
<rect x="239.00" y="587.00" width="5.30" height="8.40" fill="#fff" stroke="#000" stroke-width="0.7"/>
<path d="M241.65 583.8V590.8M240.45000000000002 583.8H242.85M240.45000000000002 590.8H242.85" stroke="#333" stroke-width="0.65" fill="none"/>
<rect x="246.50" y="563.80" width="5.30" height="31.60" fill="#aaa" stroke="#000" stroke-width="0.7"/>
<path d="M249.15 553.8V572M247.95000000000002 553.8H250.35M247.95000000000002 572H250.35" stroke="#333" stroke-width="0.65" fill="none"/>
<text x="249.15" y="556.0" text-anchor="middle" font-size="8" font-weight="bold">*</text>
<rect x="260.20" y="587.50" width="5.30" height="7.90" fill="#fff" stroke="#000" stroke-width="0.7"/>
<path d="M262.85 584.5V590M261.65000000000003 584.5H264.05M261.65000000000003 590H264.05" stroke="#333" stroke-width="0.65" fill="none"/>
<rect x="267.70" y="568.30" width="5.40" height="27.10" fill="#aaa" stroke="#000" stroke-width="0.7"/>
<path d="M270.4 565V571.8M269.2 565H271.59999999999997M269.2 571.8H271.59999999999997" stroke="#333" stroke-width="0.65" fill="none"/>
<text x="270.4" y="565.5" text-anchor="middle" font-size="8" font-weight="bold">*</text>
<rect x="300.20" y="532.30" width="59.30" height="64.60" fill="none" stroke="#000" stroke-width="1.2"/>
<line x1="300.2" y1="596.9" x2="302.4" y2="596.9" stroke="#000" stroke-width="0.8"/>
<text x="296.5" y="601.35" text-anchor="end" font-size="9.0">0</text>
<line x1="300.2" y1="583.98" x2="302.4" y2="583.98" stroke="#000" stroke-width="0.8"/>
<text x="296.5" y="588.43" text-anchor="end" font-size="9.0">1</text>
<line x1="300.2" y1="571.06" x2="302.4" y2="571.06" stroke="#000" stroke-width="0.8"/>
<text x="296.5" y="575.51" text-anchor="end" font-size="9.0">2</text>
<line x1="300.2" y1="558.14" x2="302.4" y2="558.14" stroke="#000" stroke-width="0.8"/>
<text x="296.5" y="562.59" text-anchor="end" font-size="9.0">3</text>
<line x1="300.2" y1="545.22" x2="302.4" y2="545.22" stroke="#000" stroke-width="0.8"/>
<text x="296.5" y="549.67" text-anchor="end" font-size="9.0">4</text>
<line x1="300.2" y1="532.3" x2="302.4" y2="532.3" stroke="#000" stroke-width="0.8"/>
<text x="296.5" y="536.75" text-anchor="end" font-size="9.0">5</text>
<text x="307.5" y="543.0" font-size="9">n=3</text>
<rect x="304.40" y="584.20" width="5.30" height="12.70" fill="#000" stroke="#000" stroke-width="0.7"/>
<rect x="317.80" y="581.40" width="5.20" height="15.50" fill="#fff" stroke="#000" stroke-width="0.7"/>
<path d="M320.4 576.3V586.3M319.2 576.3H321.59999999999997M319.2 586.3H321.59999999999997" stroke="#333" stroke-width="0.65" fill="none"/>
<rect x="325.20" y="571.30" width="5.30" height="25.60" fill="#aaa" stroke="#000" stroke-width="0.7"/>
<path d="M327.85 567.5V575M326.65000000000003 567.5H329.05M326.65000000000003 575H329.05" stroke="#333" stroke-width="0.65" fill="none"/>
<text x="327.84999999999997" y="567.2" text-anchor="middle" font-size="8" font-weight="bold">*</text>
<rect x="338.50" y="583.80" width="5.20" height="13.10" fill="#fff" stroke="#000" stroke-width="0.7"/>
<path d="M341.1 573.8V593.8M339.90000000000003 573.8H342.3M339.90000000000003 593.8H342.3" stroke="#333" stroke-width="0.65" fill="none"/>
<rect x="346.00" y="555.00" width="5.60" height="41.90" fill="#aaa" stroke="#000" stroke-width="0.7"/>
<path d="M348.8 540.5V570M347.6 540.5H350.0M347.6 570H350.0" stroke="#333" stroke-width="0.65" fill="none"/>
<text x="348.8" y="541.7" text-anchor="middle" font-size="8" font-weight="bold">*</text>
<rect x="380.80" y="531.70" width="57.70" height="65.30" fill="none" stroke="#000" stroke-width="1.2"/>
<line x1="380.8" y1="597.0" x2="383.0" y2="597.0" stroke="#000" stroke-width="0.8"/>
<text x="376.3" y="600.45" text-anchor="end" font-size="9.0">0.5</text>
<line x1="380.8" y1="580.67" x2="383.0" y2="580.67" stroke="#000" stroke-width="0.8"/>
<text x="376.3" y="584.12" text-anchor="end" font-size="9.0">1.0</text>
<line x1="380.8" y1="564.35" x2="383.0" y2="564.35" stroke="#000" stroke-width="0.8"/>
<text x="376.3" y="567.8" text-anchor="end" font-size="9.0">1.5</text>
<line x1="380.8" y1="548.03" x2="383.0" y2="548.03" stroke="#000" stroke-width="0.8"/>
<text x="376.3" y="551.48" text-anchor="end" font-size="9.0">2.0</text>
<line x1="380.8" y1="531.7" x2="383.0" y2="531.7" stroke="#000" stroke-width="0.8"/>
<text x="376.3" y="535.15" text-anchor="end" font-size="9.0">2.5</text>
<text x="388.0" y="542.7" font-size="9">n=3</text>
<rect x="384.80" y="581.00" width="5.00" height="16.00" fill="#000" stroke="#000" stroke-width="0.7"/>
<rect x="398.70" y="583.00" width="5.00" height="14.00" fill="#fff" stroke="#000" stroke-width="0.7"/>
<path d="M401.2 574.8V591.4M400.0 574.8H402.4M400.0 591.4H402.4" stroke="#333" stroke-width="0.65" fill="none"/>
<rect x="406.40" y="576.30" width="5.30" height="20.70" fill="#aaa" stroke="#000" stroke-width="0.7"/>
<path d="M409.05 560V593M407.85 560H410.25M407.85 593H410.25" stroke="#333" stroke-width="0.65" fill="none"/>
<rect x="420.20" y="584.60" width="5.30" height="12.40" fill="#fff" stroke="#000" stroke-width="0.7"/>
<path d="M422.85 575.4V593M421.65000000000003 575.4H424.05M421.65000000000003 593H424.05" stroke="#333" stroke-width="0.65" fill="none"/>
<rect x="427.90" y="580.60" width="5.30" height="16.40" fill="#aaa" stroke="#000" stroke-width="0.7"/>
<path d="M430.55 564.6V595.4M429.35 564.6H431.75M429.35 595.4H431.75" stroke="#333" stroke-width="0.65" fill="none"/>
<rect x="443.60" y="536.10" width="5.60" height="5.60" fill="#fff" stroke="#000" stroke-width="0.9"/>
<text x="451.3" y="543">WT-VV</text>
<rect x="443.60" y="548.70" width="5.60" height="5.60" fill="#aaa" stroke="#000" stroke-width="0.9"/>
<text x="452.6" y="554.9">rVV-HBZ LL/AA</text>
<text x="80" y="612.5">First stimu.</text>
<text x="80" y="624.2">Second stimu.</text>
<text x="167.4" y="612.5" text-anchor="middle">PA</text>
<text x="189.2" y="612.5" text-anchor="middle">PB</text>
<text x="150.2" y="624.2" text-anchor="middle">(-)</text>
<text x="167.4" y="624.2" text-anchor="middle">PA</text>
<text x="189.2" y="624.2" text-anchor="middle">PB</text>
<text x="244.3" y="612.5" text-anchor="middle">PA</text>
<text x="265.8" y="612.5" text-anchor="middle">PB</text>
<text x="227.4" y="624.2" text-anchor="middle">(-)</text>
<text x="244.3" y="624.2" text-anchor="middle">PA</text>
<text x="265.8" y="624.2" text-anchor="middle">PB</text>
<text x="324.3" y="612.5" text-anchor="middle">PA</text>
<text x="345.5" y="612.5" text-anchor="middle">PB</text>
<text x="306.5" y="624.2" text-anchor="middle">(-)</text>
<text x="324.3" y="624.2" text-anchor="middle">PA</text>
<text x="345.5" y="624.2" text-anchor="middle">PB</text>
<text x="404.2" y="612.5" text-anchor="middle">PA</text>
<text x="425.7" y="612.5" text-anchor="middle">PB</text>
<text x="387" y="624.2" text-anchor="middle">(-)</text>
<text x="404.2" y="624.2" text-anchor="middle">PA</text>
<text x="425.7" y="624.2" text-anchor="middle">PB</text>
<line x1="150.5" y1="631.9" x2="439.8" y2="631.9" stroke="#000" stroke-width="1.2"/>
<text x="201.5" y="646.7">Upper panels : Stimulation with pooled Tax peptides</text>
<text x="201.5" y="657.2">Lower panels : Stimulation with pooled HBZ peptides</text>
</svg>
</body></html>
